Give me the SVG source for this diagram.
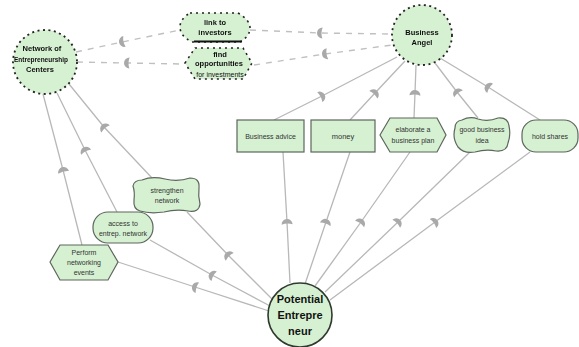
<svg xmlns="http://www.w3.org/2000/svg" width="579" height="347" viewBox="0 0 579 347">
  <style>
    .actor { fill: #d6f1d2; stroke: #222; stroke-width: 1.8; stroke-dasharray: 2 3.5; }
    .dnode { fill: #d6f1d2; stroke: #222; stroke-width: 1.6; stroke-dasharray: 2 4; }
    .node { fill: #d6f1d2; stroke: #5d665d; stroke-width: 1.2; }
    .pe { fill: #d6f1d2; stroke: #2f3a2f; stroke-width: 1.6; }
    .lbl { font-family: "Liberation Sans", Arial, sans-serif; font-size: 7px; fill: #333; text-anchor: middle; }
    .blob { font-family: "Liberation Sans", Arial, sans-serif; font-size: 7.5px; font-weight: bold; fill: #111; text-anchor: middle; filter: url(#soft); }
    .big { font-family: "Liberation Sans", Arial, sans-serif; font-size: 11px; font-weight: bold; fill: #111; text-anchor: middle; }
    .link { fill: none; stroke: #b8b8b8; stroke-width: 1.3; marker-mid: url(#dep); }
    .dash { fill: none; stroke: #c0c0c0; stroke-width: 1.4; stroke-dasharray: 6 6; marker-mid: url(#dep); }
  </style>
  <defs>
    <filter id="soft" x="-10%" y="-30%" width="120%" height="160%">
      <feGaussianBlur stdDeviation="0.7"/>
    </filter>
    <!-- dependency "D" marker placed part way along each link -->
    <marker id="dep" markerUnits="userSpaceOnUse" markerWidth="14" markerHeight="14" viewBox="-7 -7 14 14" refX="0" refY="0" orient="auto">
      <path d="M-2.5,-5.5 Q-0.5,0 -2.5,5.5 A5.5,5.5 0 0 0 -2.5,-5.5 Z" transform="scale(-1,1)" fill="#a9a9a9"/>
    </marker>
  </defs>

  <!-- connectors -->
  <g id="connectors">
    <!-- dashed links across the top -->
    <polyline class="dash" points="76,52 122,42 180,30"/>
    <polyline class="dash" points="250,30 320,33 392,34"/>
    <polyline class="dash" points="77,62 127,63 183,64"/>
    <polyline class="dash" points="254,65 325,54 392,45"/>

    <!-- investor side to dependums -->
    <polyline class="link" points="397,57 322,96 274,120"/>
    <polyline class="link" points="405,61 375,93 350,120"/>
    <polyline class="link" points="416,65 415,93 414,118"/>
    <polyline class="link" points="435,63 457,92 478,118"/>
    <polyline class="link" points="440,58 488,87 540,120"/>

    <!-- dependums to Potential Entrepreneur -->
    <polyline class="link" points="283,152 287,222 290,283"/>
    <polyline class="link" points="350,152 326,222 305,284"/>
    <polyline class="link" points="410,152 361,222 315,286"/>
    <polyline class="link" points="470,152 398,222 325,292"/>
    <polyline class="link" points="530,152 435,222 330,300"/>

    <!-- left actor to dependums -->
    <polyline class="link" points="69,84 104,127 152,178"/>
    <polyline class="link" points="57,93 85,150 117,212"/>
    <polyline class="link" points="43,94 63,170 82,245"/>

    <!-- left dependums to Potential Entrepreneur -->
    <polyline class="link" points="187,212 228,255 273,300"/>
    <polyline class="link" points="150,240 212,275 272,307"/>
    <polyline class="link" points="118,262 195,287 269,311"/>
  </g>

  <!-- actors -->
  <g id="actor-left">
    <circle class="actor" cx="45" cy="62" r="32"/>
    <text class="blob" x="42" y="51">Network of</text>
    <text class="blob" x="41" y="62" style="font-size:6.5px">Entrepreneurship</text>
    <text class="blob" x="40" y="72">Centers</text>
  </g>
  <g id="actor-right">
    <circle class="actor" cx="422" cy="35" r="30"/>
    <text class="blob" x="422" y="35">Business</text>
    <text class="blob" x="422" y="45">Angel</text>
  </g>

  <!-- top dependums -->
  <g id="node-top-upper">
    <path class="dnode" d="M190,13 L238,13 Q250,20 250,28 Q250,36 240,42 L192,42 Q180,36 180,27 Q180,19 190,13 Z"/>
    <line x1="194" y1="41.5" x2="242" y2="41.5" stroke="#111" stroke-width="2"/>
    <text class="blob" x="215" y="25">link to</text>
    <text class="blob" x="215" y="35">investors</text>
  </g>
  <g id="node-top-lower">
    <polygon class="dnode" points="185,63 195,48 243,48 252,63 243,79 195,79"/>
    <text class="blob" x="220" y="57">find</text>
    <text class="blob" x="219" y="66">opportunities</text>
    <text class="lbl" x="220" y="77" style="fill:#111">for investments</text>
  </g>

  <!-- right-hand dependums -->
  <g id="node-business-advice">
    <rect class="node" x="237" y="120" width="67" height="32"/>
    <text class="lbl" x="270.5" y="139">Business advice</text>
  </g>
  <g id="node-money">
    <rect class="node" x="311" y="120" width="64" height="32"/>
    <text class="lbl" x="343" y="139" style="font-size:7.5px">money</text>
  </g>
  <g id="node-business-plan">
    <polygon class="node" points="380,135 390,118 437,118 446,135 437,152 390,152"/>
    <text class="lbl" x="413" y="132">elaborate a</text>
    <text class="lbl" x="413" y="143">business plan</text>
  </g>
  <g id="node-business-idea">
    <path class="node" d="M462,120 Q470,116 478,119 Q488,122 498,118 Q508,117 509,126 Q511,135 508,143 Q507,152 496,151 Q486,149 475,152 Q464,154 458,147 Q452,138 455,128 Q455,121 462,120 Z"/>
    <text class="lbl" x="482" y="132">good business</text>
    <text class="lbl" x="482" y="143">idea</text>
  </g>
  <g id="node-hold-shares">
    <rect class="node" x="522" y="120" width="56" height="32" rx="14"/>
    <text class="lbl" x="550" y="139">hold shares</text>
  </g>

  <!-- left-hand dependums -->
  <g id="node-strengthen-network">
    <path class="node" d="M142,180 Q152,176 165,179 Q178,182 190,178 Q200,178 199,188 Q198,196 200,204 Q199,213 188,211 Q176,209 164,212 Q150,214 140,211 Q133,209 134,200 Q135,192 133,186 Q134,180 142,180 Z"/>
    <text class="lbl" x="167" y="193">strengthen</text>
    <text class="lbl" x="167" y="203">network</text>
  </g>
  <g id="node-access-network">
    <rect class="node" x="93" y="212" width="60" height="31" rx="15"/>
    <text class="lbl" x="123" y="226">access to</text>
    <text class="lbl" x="123" y="236">entrep. network</text>
  </g>
  <g id="node-networking-events">
    <polygon class="node" points="50,262 60,245 108,245 118,262 108,280 60,280"/>
    <text class="lbl" x="84" y="255">Perform</text>
    <text class="lbl" x="84" y="265">networking</text>
    <text class="lbl" x="84" y="275">events</text>
  </g>

  <!-- central actor -->
  <g id="actor-potential-entrepreneur">
    <circle class="pe" cx="300" cy="315" r="32"/>
    <text class="big" x="300" y="303">Potential</text>
    <text class="big" x="300" y="319">Entrepre</text>
    <text class="big" x="300" y="335">neur</text>
  </g>
</svg>
